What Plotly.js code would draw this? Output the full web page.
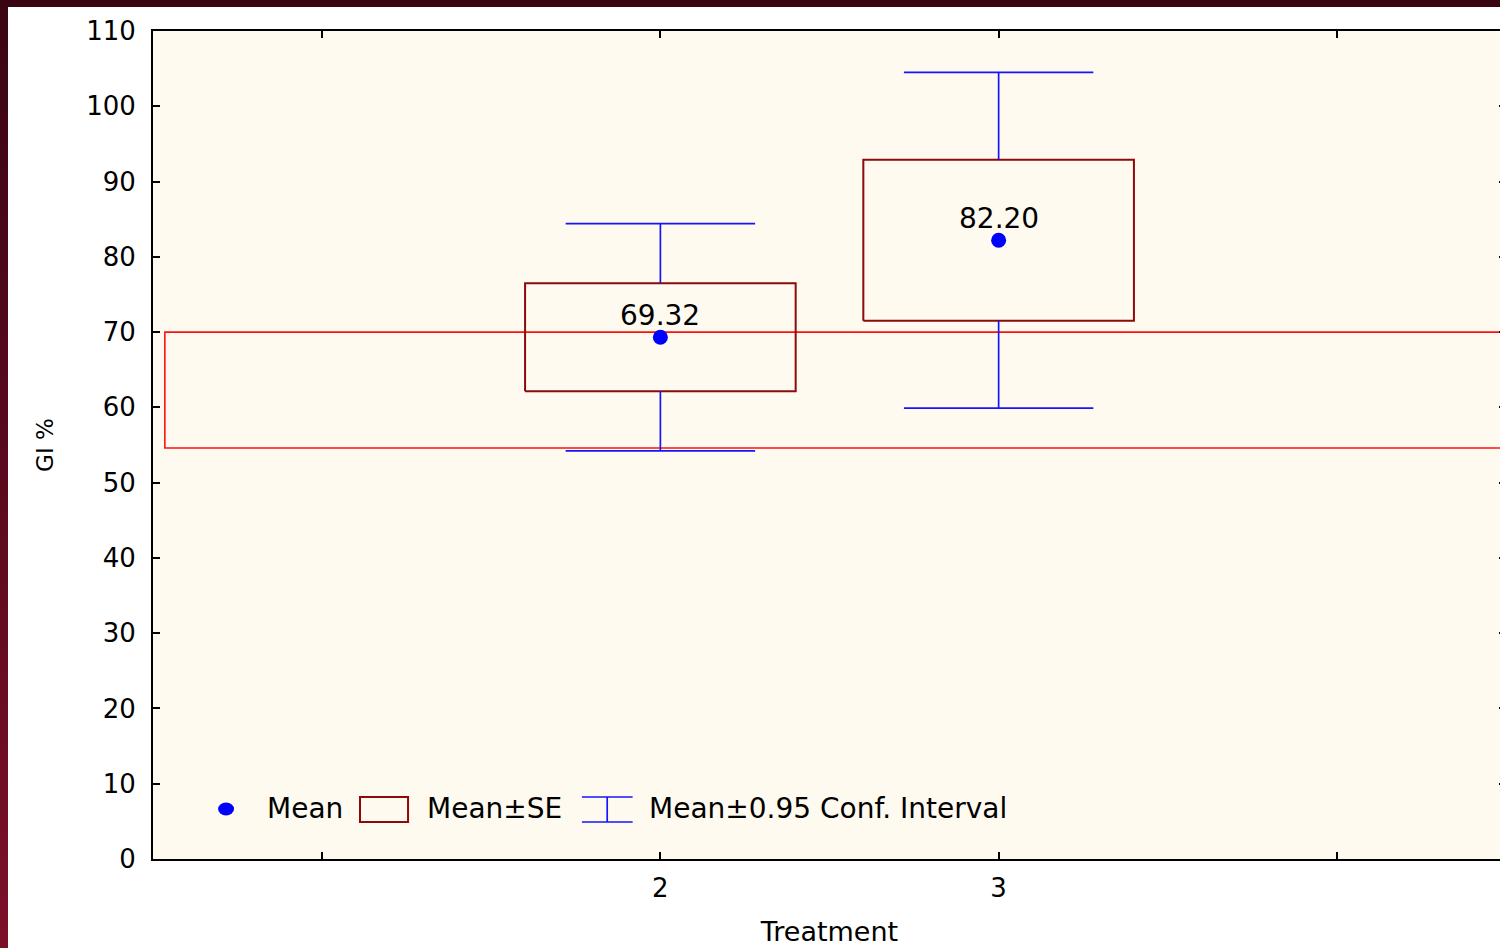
<!DOCTYPE html>
<html>
<head>
<meta charset="utf-8">
<script src="https://cdn.plot.ly/plotly-3.0.1.min.js"></script>
<style>
  html, body { margin: 0; padding: 0; width: 1500px; height: 948px; overflow: hidden;
    background: linear-gradient(to bottom, #3a0512 0%, #5a0a1e 50%, #7c1029 100%); }
  #chart { position: absolute; left: 8px; top: 7px; width: 1500px; height: 941px; background: #ffffff; }
</style>
</head>
<body>
<div id="chart"></div>
<script>
// ---- data ----
const categories = [2, 3];
const means = [69.32, 82.20];
const stdErrs = [7.17, 10.70];
const ci95 = [15.10, 22.30];
const refBand = [54.6, 70.0];           // lower, upper edge of red reference band
const xTickVals = [1, 2, 3, 4];
const xTickText = ['', '2', '3', ''];
const yTickVals = [0, 10, 20, 30, 40, 50, 60, 70, 80, 90, 100, 110];
const legendLabels = ['Mean', 'Mean\u00b1SE', 'Mean\u00b10.95 Conf. Interval'];
const meanLabels = means.map(v => v.toFixed(2));

// ---- styles ----
const FONT = 'DejaVu Sans, Liberation Sans, Arial, sans-serif';
const BOX_COLOR = '#8b0a0a';
const CI_COLOR = '#1414ff';
const MEAN_COLOR = '#0000ff';
const BOX_HALF = 0.40;
const CAP_HALF = 0.28;

const traces = [];
categories.forEach((c, i) => {
  const m = means[i], se = stdErrs[i], ci = ci95[i];
  // Mean ± SE box
  traces.push({
    type: 'scatter', mode: 'lines', hoverinfo: 'skip', showlegend: false,
    x: [c - BOX_HALF, c + BOX_HALF, c + BOX_HALF, c - BOX_HALF, c - BOX_HALF],
    y: [m - se, m - se, m + se, m + se, m - se],
    line: { color: BOX_COLOR, width: 2 }
  });
  // Mean ± CI whiskers
  traces.push({
    type: 'scatter', mode: 'lines', hoverinfo: 'skip', showlegend: false,
    x: [c, c, null, c - CAP_HALF, c + CAP_HALF, null, c, c, null, c - CAP_HALF, c + CAP_HALF],
    y: [m + se, m + ci, null, m + ci, m + ci, null, m - se, m - ci, null, m - ci, m - ci],
    line: { color: CI_COLOR, width: 1.7 }
  });
});
traces.push({
  type: 'scatter', mode: 'markers', showlegend: false,
  x: categories, y: means,
  marker: { color: MEAN_COLOR, size: 15, symbol: 'circle' }
});

const annotations = categories.map((c, i) => ({
  x: c, y: means[i], xref: 'x', yref: 'y', text: meanLabels[i],
  showarrow: false, yanchor: 'middle', yshift: 22,
  font: { family: FONT, size: 28, color: '#000' }
}));

// custom legend (paper coords)
const legY = 0.0604;
annotations.push(
  { xref: 'paper', yref: 'paper', x: 0.0828, y: legY, xanchor: 'left', yanchor: 'middle', showarrow: false,
    text: legendLabels[0], font: { family: FONT, size: 28, color: '#000' } },
  { xref: 'paper', yref: 'paper', x: 0.201, y: legY, xanchor: 'left', yanchor: 'middle', showarrow: false,
    text: legendLabels[1], font: { family: FONT, size: 28, color: '#000' } },
  { xref: 'paper', yref: 'paper', x: 0.365, y: legY, xanchor: 'left', yanchor: 'middle', showarrow: false,
    text: legendLabels[2], font: { family: FONT, size: 28, color: '#000' } }
);

const shapes = [
  // red reference band
  { type: 'rect', xref: 'x', yref: 'y', x0: 0.535, x1: 4.6, y0: refBand[0], y1: refBand[1],
    line: { color: '#ff1010', width: 1.6 }, fillcolor: 'rgba(0,0,0,0)', layer: 'below' },
  // legend: mean dot
  { type: 'circle', xref: 'paper', yref: 'paper', xsizemode: 'pixel', ysizemode: 'pixel',
    xanchor: 0.054, yanchor: legY, x0: -8, x1: 8, y0: -6.5, y1: 6.5,
    fillcolor: MEAN_COLOR, line: { width: 0 } },
  // legend: SE box
  { type: 'rect', xref: 'paper', yref: 'paper', x0: 0.153, x1: 0.1885, y0: 0.0447, y1: 0.0749,
    line: { color: BOX_COLOR, width: 2 }, fillcolor: 'rgba(0,0,0,0)' },
  // legend: CI whisker icon
  { type: 'line', xref: 'paper', yref: 'paper', x0: 0.317, x1: 0.3545, y0: 0.0749, y1: 0.0749,
    line: { color: CI_COLOR, width: 1.7 } },
  { type: 'line', xref: 'paper', yref: 'paper', x0: 0.317, x1: 0.3545, y0: 0.0447, y1: 0.0447,
    line: { color: CI_COLOR, width: 1.7 } },
  { type: 'line', xref: 'paper', yref: 'paper', x0: 0.3357, x1: 0.3357, y0: 0.0447, y1: 0.0749,
    line: { color: CI_COLOR, width: 1.7 } }
];

const layout = {
  width: 1500, height: 941,
  margin: { l: 145, r: 2, t: 24, b: 89 },
  paper_bgcolor: '#ffffff',
  plot_bgcolor: '#fffaf0',
  showlegend: false,
  font: { family: FONT, color: '#000' },
  xaxis: {
    range: [0.5, 4.5], tickvals: xTickVals, ticktext: xTickText,
    ticks: 'inside', ticklen: 7, tickwidth: 2, tickcolor: '#000',
    showline: true, linecolor: '#000', linewidth: 2, mirror: 'ticks',
    showgrid: false, zeroline: false,
    tickfont: { family: FONT, size: 26, color: '#000' },
    ticklabelstandoff: 5,
    title: { text: 'Treatment', font: { family: FONT, size: 27, color: '#000' }, standoff: 20 }
  },
  yaxis: {
    range: [0, 110], tickvals: yTickVals,
    ticks: 'inside', ticklen: 7, tickwidth: 2, tickcolor: '#000',
    showline: true, linecolor: '#000', linewidth: 2, mirror: 'ticks',
    showgrid: false, zeroline: false,
    tickfont: { family: FONT, size: 26, color: '#000' },
    ticklabelstandoff: 10,
    title: { text: 'GI %', font: { family: FONT, size: 23, color: '#000' }, standoff: 26 }
  },
  shapes: shapes,
  annotations: annotations
};

Plotly.newPlot('chart', traces, layout, { staticPlot: true, displayModeBar: false });
</script>
</body>
</html>
